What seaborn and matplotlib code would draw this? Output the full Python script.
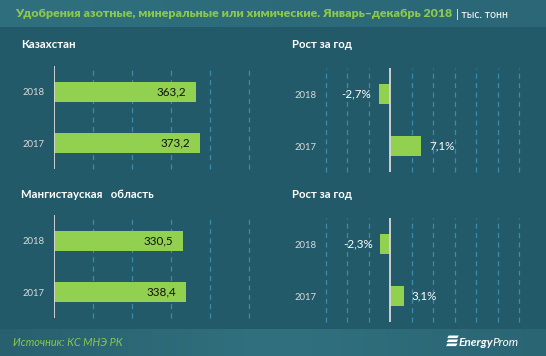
import matplotlib
matplotlib.use("Agg")
import matplotlib.pyplot as plt
import seaborn as sns
import pandas as pd
import numpy as np
from matplotlib.patches import Polygon
from matplotlib.colors import LinearSegmentedColormap

# ---------------- data ----------------
years = ["2018", "2017"]
kz_volume = [363.2, 373.2]
kz_growth = [-2.7, 7.1]
mg_volume = [330.5, 338.4]
mg_growth = [-2.3, 3.1]

title_text = "Удобрения азотные, минеральные или химические. Январь–декабрь 2018"
unit_text = "| тыс. тонн"
region_titles = ["Казахстан", "Мангистауская   область"]
growth_title = "Рост за год"
source_text = "Источник: КС МНЭ РК"
brand_a, brand_b = "Energy", "Prom"

# ---------------- style ----------------
BG = "#235a69"
GREEN = "#92d050"
GRID = "#3a8dad"
AXIS = "#d9d9d9"
TXT_GREEN = "#8cc84b"
W, H = 546, 356

sns.set_theme(style="white")
plt.rcParams["font.family"] = ["Lato", "DejaVu Sans"]

fig = plt.figure(figsize=(W / 100, H / 100), dpi=100, facecolor=BG)


def px_axes(x0, y0, x1, y1):
    return fig.add_axes([x0 / W, 1 - y1 / H, (x1 - x0) / W, (y1 - y0) / H])


def fx(x):
    return x / W


def fy(y):
    return 1 - y / H


# header and footer bands with soft gradients
def band(y0, y1, colors):
    ax = px_axes(0, y0, W, y1)
    cmap = LinearSegmentedColormap.from_list("b", colors)
    ax.imshow(np.linspace(0, 1, 256)[None, :], aspect="auto", cmap=cmap,
              extent=[0, 1, 0, 1])
    ax.set_axis_off()
    return ax


band(0, 27, ["#30707e", "#2d6b7a", "#2b6776"])
band(329, H, ["#28606f", "#31717f", "#2a6574"])


def panel(ax, values, xlim, grid_ticks, kind):
    df = pd.DataFrame({"year": years, "value": values})
    sns.barplot(data=df, x="value", y="year", order=years, orient="h",
                color=GREEN, saturation=1, width=0.385, ax=ax, zorder=2,
                linewidth=0, edgecolor="none")
    ax.set_xlim(*xlim)
    ax.set_ylim(1.5, -0.5)
    ax.set_facecolor("none")
    for s in ax.spines.values():
        s.set_visible(False)
    for t in grid_ticks:
        ax.axvline(t, color=GRID, lw=0.9, ls=(0, (4, 3.5)), zorder=0,
                   clip_on=False)
    ax.axvline(0, color=AXIS, lw=1.3, zorder=3)
    ax.set_xticks([])
    ax.set_xlabel("")
    ax.set_ylabel("")
    ax.tick_params(axis="y", length=0, labelsize=6.8, labelcolor="#d9d9d9",
                   pad=7)
    for i, v in enumerate(values):
        if kind == "volume":
            ax.annotate(f"{v:.1f}".replace(".", ","), (v, i),
                        xytext=(-7, 0), textcoords="offset points",
                        ha="right", va="center", fontsize=8.4, color="#111111")
        else:
            s = f"{v:.1f}".replace(".", ",") + "%"
            off = -5.5 if v < 0 else 6
            ax.annotate(s, (v, i), xytext=(off, 0), textcoords="offset points",
                        ha="right" if v < 0 else "left", va="center",
                        fontsize=8.4, color="white")


ax1 = px_axes(54, 66, 249, 169)
panel(ax1, kz_volume, (0, 500), [100, 200, 300, 400, 500], "volume")
ax2 = px_axes(326, 68, 519, 172)
panel(ax2, kz_growth, (-15, 30), [-15, -10, -5, 5, 10, 15, 20, 25, 30], "growth")
ax3 = px_axes(54, 215, 249, 318)
panel(ax3, mg_volume, (0, 500), [100, 200, 300, 400, 500], "volume")
ax4 = px_axes(326, 218, 519, 322)
panel(ax4, mg_growth, (-15, 30), [-15, -10, -5, 5, 10, 15, 20, 25, 30], "growth")

# panel titles
for x, y, s in [(21, 44, region_titles[0]), (292, 44, growth_title),
                (21, 195, region_titles[1]), (292, 195, growth_title)]:
    fig.text(fx(x), fy(y), s, ha="left", va="center", fontsize=8.2,
             fontweight="bold", color="white")

# header title, fitted to its width in the reference
t = fig.text(fx(15), fy(13.5), title_text, ha="left", va="center",
             fontsize=10.5, fontweight="heavy", color=TXT_GREEN)
fig.canvas.draw()
bb = t.get_window_extent()
t.set_fontsize(10.5 * 437 / bb.width)
fig.canvas.draw()
bb = t.get_window_extent()
fig.text((bb.x1 + 4) / W, fy(14.5), unit_text, ha="left", va="center",
         fontsize=7.6, color="white")

# footer
fig.text(fx(13), fy(342), source_text, ha="left", va="center", fontsize=7.8,
         style="italic", color=TXT_GREEN)

# logo: three slanted bars + brand text
for k in range(3):
    y0 = 335.5 + k * 4
    pts = [(447 + (3 - k) * 0.6, y0), (457 + (3 - k) * 0.6, y0),
           (456 + (2 - k) * 0.6, y0 + 2.6), (446 + (2 - k) * 0.6, y0 + 2.6)]
    fig.patches.append(Polygon([(fx(a), fy(b)) for a, b in pts], closed=True,
                               transform=fig.transFigure, facecolor="white",
                               edgecolor="none"))
ta = fig.text(fx(459), fy(342), brand_a, ha="left", va="center", fontsize=8.6,
              fontweight="bold", style="italic", color="white")
fig.canvas.draw()
bb = ta.get_window_extent()
fig.text((bb.x1 - 1.5) / W, fy(342), brand_b, ha="left", va="center",
         fontsize=8.6, style="italic", color="white")

fig.savefig("out.png", dpi=100, facecolor=BG)
